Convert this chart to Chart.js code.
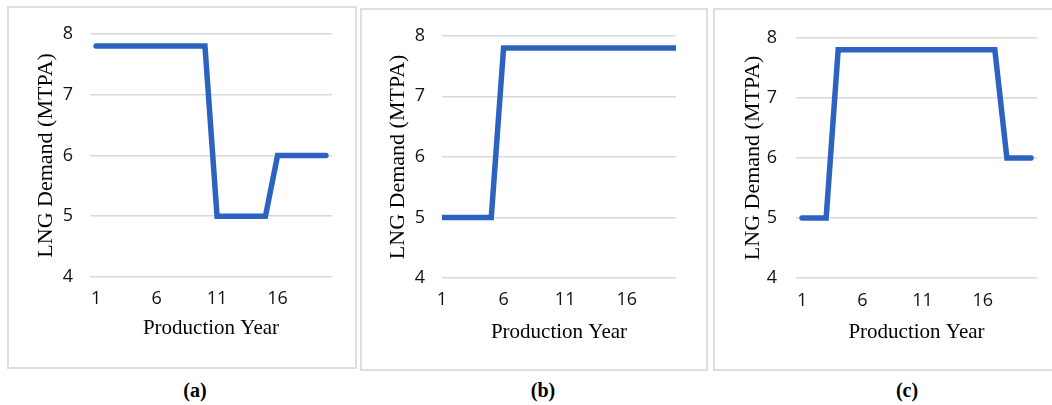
<!DOCTYPE html>
<html>
<head>
<meta charset="utf-8">
<script src="https://cdn.jsdelivr.net/npm/chart.js@4/dist/chart.umd.min.js"></script>
<style>
  html, body { margin: 0; padding: 0; background: #ffffff; overflow: hidden; }
  #stage { position: relative; width: 1052px; height: 405px; overflow: hidden; }
  .box { position: absolute; box-sizing: border-box; border: 2px solid #dedede; }
  canvas { position: absolute; }
  .cap { position: absolute; font-family: "Liberation Serif", "Times New Roman", serif; font-weight: bold; font-size: 20px; color: #000; transform: translate(-50%, -50%); white-space: nowrap; }
</style>
</head>
<body>
<div id="stage"></div>
<script>
// ---------- data ----------
const years = ['1','2','3','4','5','6','7','8','9','10','11','12','13','14','15','16','17','18','19','20'];
const shownYears = ['1','6','11','16'];
const yTicks = [4, 5, 6, 7, 8];
const demandA = [7.8,7.8,7.8,7.8,7.8,7.8,7.8,7.8,7.8,7.8,5,5,5,5,5,6,6,6,6,6];
const demandB = [5,5,5,5,5,7.8,7.8,7.8,7.8,7.8,7.8,7.8,7.8,7.8,7.8,7.8,7.8,7.8,7.8,7.8];
const demandC = [5,5,5,7.8,7.8,7.8,7.8,7.8,7.8,7.8,7.8,7.8,7.8,7.8,7.8,7.8,7.8,6,6,6];
const captions = ['(a)', '(b)', '(c)'];
const yTitle = 'LNG Demand (MTPA)';
const xTitle = 'Production Year';

// ---------- layout (pixels) ----------
const panels = [
  { data: demandA, caption: captions[0], offset: true,  cap: 'round',
    box: {l: 7, t: 6, w: 350, h: 363}, canvasW: 350,
    plot: {l: 90, r: 332, t: 32, b: 277},
    yLabPad: 17, yTitleX: 39, xTitleDist: 41, xTickDist: 21.5, capPos: [195, 390] },
  { data: demandB, caption: captions[1], offset: false, cap: 'butt',
    box: {l: 360, t: 8, w: 348, h: 363}, canvasW: 348,
    plot: {l: 442, r: 676, t: 33, b: 278},
    yLabPad: 17, yTitleX: 38, xTitleDist: 39, xTickDist: 22, capPos: [543, 390] },
  { data: demandC, caption: captions[2], offset: true,  cap: 'round',
    box: {l: 713, t: 8, w: 345, h: 363}, canvasW: 339,
    plot: {l: 796, r: 1037, t: 33, b: 278},
    yLabPad: 19, yTitleX: 40, xTitleDist: 39, xTickDist: 22.5, capPos: [907, 390] }
];

const stage = document.getElementById('stage');
const tickFont = { family: '"Open Sans", "Liberation Sans", sans-serif', size: 18 };
const xTitleFont = { family: '"Liberation Serif", "Times New Roman", serif', size: 21 };
const yTitleFont = { family: '"Liberation Serif", "Times New Roman", serif', size: 22 };

panels.forEach(p => {
  const box = document.createElement('div');
  box.className = 'box';
  box.style.left = p.box.l + 'px';
  box.style.top = p.box.t + 'px';
  box.style.width = p.box.w + 'px';
  box.style.height = p.box.h + 'px';
  stage.appendChild(box);

  const cv = document.createElement('canvas');
  cv.width = p.canvasW; cv.height = p.box.h;
  cv.style.left = p.box.l + 'px'; cv.style.top = p.box.t + 'px';
  cv.style.width = p.canvasW + 'px'; cv.style.height = p.box.h + 'px';
  stage.appendChild(cv);

  const cap = document.createElement('div');
  cap.className = 'cap';
  cap.textContent = p.caption;
  cap.style.left = p.capPos[0] + 'px';
  cap.style.top = p.capPos[1] + 'px';
  stage.appendChild(cap);

  const yAxisW = p.plot.l - p.box.l;
  const padTop = p.plot.t - p.box.t;
  const padRight = p.box.l + p.canvasW - p.plot.r;
  const xAxisH = p.box.t + p.box.h - p.plot.b;
  const tickLH = tickFont.size * 1.2;
  const xtLH = xTitleFont.size * 1.2;
  const ytLH = yTitleFont.size * 1.2;

  new Chart(cv, {
    type: 'line',
    data: {
      labels: years,
      datasets: [{
        data: p.data,
        borderColor: '#2C63C1',
        borderWidth: 5.5,
        borderCapStyle: p.cap,
        borderJoinStyle: 'miter',
        pointRadius: 0,
        pointHoverRadius: 0,
        tension: 0,
        fill: false
      }]
    },
    options: {
      responsive: false,
      animation: false,
      devicePixelRatio: 1,
      events: [],
      layout: { padding: { top: padTop, right: padRight, left: 0, bottom: 0 } },
      plugins: { legend: { display: false }, tooltip: { enabled: false } },
      scales: {
        x: {
          offset: p.offset,
          grid: { display: false, drawTicks: false },
          border: { display: false },
          afterFit: s => { s.height = xAxisH; },
          ticks: {
            autoSkip: false, maxRotation: 0, minRotation: 0,
            padding: p.xTickDist - tickLH / 2,
            color: '#111111', font: tickFont,
            callback: function (v, i) { const l = this.getLabelForValue(v); return shownYears.includes(l) ? l : ''; }
          },
          title: {
            display: true, text: xTitle, color: '#000', font: xTitleFont,
            padding: { top: 0, bottom: p.xTitleDist - xtLH / 2 }
          }
        },
        y: {
          min: yTicks[0], max: yTicks[yTicks.length - 1],
          afterBuildTicks: s => { s.ticks = yTicks.map(v => ({ value: v })); },
          afterFit: s => { s.width = yAxisW; },
          grid: { color: '#d9d9d9', lineWidth: 1.5, drawTicks: false },
          border: { display: false },
          ticks: { padding: p.yLabPad, color: '#111111', font: tickFont },
          title: {
            display: true, text: yTitle, color: '#000', font: yTitleFont,
            padding: { top: p.yTitleX - ytLH / 2, bottom: 0 }
          }
        }
      }
    }
  });
});
</script>
</body>
</html>
